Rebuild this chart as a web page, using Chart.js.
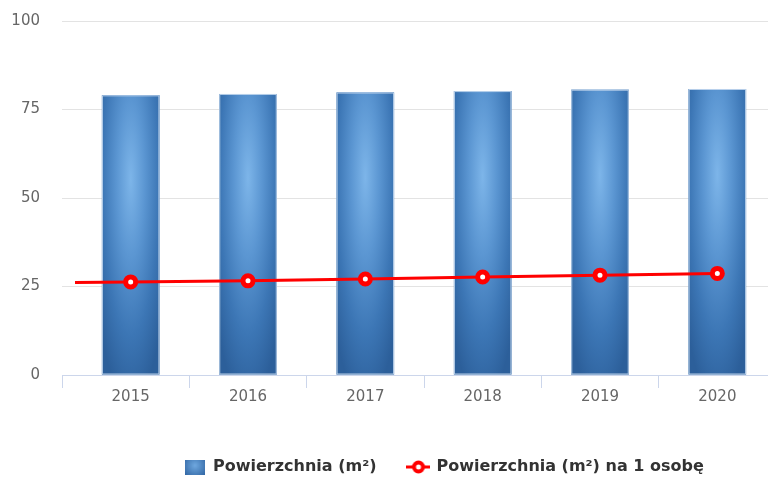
<!DOCTYPE html>
<html>
<head>
<meta charset="utf-8">
<script src="https://cdn.jsdelivr.net/npm/chart.js@4.4.1/dist/chart.umd.min.js"></script>
<style>
html,body{margin:0;padding:0;background:#fff;overflow:hidden;}
#wrap{width:786px;height:478px;position:relative;}
</style>
</head>
<body>
<div id="wrap"><canvas id="c"></canvas></div>
<script>
// ---- data ----
const years = ['2015', '2016', '2017', '2018', '2019', '2020'];
const areaTotal = [79.0, 79.4, 79.8, 80.2, 80.6, 80.8];
const areaPerPerson = [26.3, 26.6, 27.1, 27.7, 28.2, 28.7];
const yTickValues = [0, 25, 50, 75, 100];
const seriesNames = ['Powierzchnia (m²)', 'Powierzchnia (m²) na 1 osobę'];

// ---- styling helpers ----
const STOPS = [[0, '#7db5e9'], [0.35, '#5b96d2'], [0.7, '#3c76b5'], [1, '#2c5f9a']];
const LEGEND_FONT = 16;

function fillEllipseGradient(ctx, left, top, w, h) {
  const cx = left + w / 2, cy = top + h * 0.3;
  const rx = w * 0.7, ry = h * 0.8;
  ctx.save();
  ctx.beginPath();
  ctx.rect(left, top, w, h);
  ctx.clip();
  ctx.translate(cx, cy);
  ctx.scale(1, ry / rx);
  const g = ctx.createRadialGradient(0, 0, 0, 0, 0, rx);
  STOPS.forEach(s => g.addColorStop(s[0], s[1]));
  ctx.fillStyle = g;
  ctx.fillRect(-5000, -5000, 10000, 10000);
  ctx.restore();
}

function makeBarIcon() {
  const cv = document.createElement('canvas');
  cv.width = 20; cv.height = 15;
  const c = cv.getContext('2d');
  const g = c.createRadialGradient(10, 6, 0, 10, 6, 14);
  g.addColorStop(0, '#6fa8df'); g.addColorStop(1, '#2f64a2');
  c.fillStyle = g; c.fillRect(0, 0, 20, 15);
  return cv;
}
function makeLineIcon() {
  const cv = document.createElement('canvas');
  cv.width = 24; cv.height = 16;
  const c = cv.getContext('2d');
  c.strokeStyle = '#ff0000'; c.lineWidth = 3;
  c.beginPath(); c.moveTo(0, 8); c.lineTo(24, 8); c.stroke();
  c.beginPath(); c.arc(12, 8, 4.5, 0, Math.PI * 2);
  c.fillStyle = '#ffffff'; c.fill();
  c.lineWidth = 4; c.stroke();
  return cv;
}
const icons = [makeBarIcon(), makeLineIcon()];

const barPainter = {
  id: 'barPainter',
  afterDatasetDraw(chart, args) {
    if (args.index !== 0) return;
    const ctx = chart.ctx;
    args.meta.data.forEach(bar => {
      const p = bar.getProps(['x', 'y', 'base', 'width'], true);
      const left = p.x - p.width / 2, top = p.y, h = p.base - p.y;
      fillEllipseGradient(ctx, left, top, p.width, h);
      ctx.save();
      ctx.strokeStyle = 'rgba(200,218,240,0.9)';
      ctx.lineWidth = 1;
      ctx.strokeRect(left + 0.5, top + 0.5, p.width - 1, h - 1);
      ctx.restore();
    });
  },
  beforeDatasetDraw(chart, args) {
    if (args.index !== 1) return;
    const pts = args.meta.data;
    if (pts.length < 2) return;
    const a = pts[0].getProps(['x', 'y'], true), b = pts[1].getProps(['x', 'y'], true);
    const slope = (b.y - a.y) / (b.x - a.x);
    const x0 = chart.chartArea.left + 3;
    const y0 = a.y + slope * (x0 - a.x);
    const ctx = chart.ctx;
    ctx.save();
    ctx.strokeStyle = '#ff0000';
    ctx.lineWidth = 3;
    ctx.beginPath(); ctx.moveTo(x0, y0); ctx.lineTo(a.x, a.y); ctx.stroke();
    ctx.restore();
  },
  afterDraw(chart) {
    const a = chart.chartArea;
    const ctx = chart.ctx;
    ctx.save();
    ctx.strokeStyle = '#ccd6eb';
    ctx.lineWidth = 1;
    ctx.beginPath();
    ctx.moveTo(a.left - 9.5, a.bottom);
    ctx.lineTo(a.left - 9.5, a.bottom + 13);
    ctx.stroke();
    ctx.restore();
  }
};

const legendMover = {
  id: 'legendMover',
  beforeLayout(chart) {
    const l = chart.legend;
    if (!l || l._patched) return;
    const orig = l.fit.bind(l);
    l.fit = function () { orig(); this.height = 72; };
    l._patched = true;
  },
  afterLayout(chart) {
    const l = chart.legend;
    if (!l) return;
    const p = l.options.labels.padding;
    const start = (l.left + p + l.right - l.lineWidths[0]) / 2;
    const dx = 185 - start;
    const dy = 467 - (l.top + p + LEGEND_FONT / 2);
    l.left += dx; l.right += dx;
    l.top += dy; l.bottom += dy;
  }
};

new Chart(document.getElementById('c'), {
  type: 'bar',
  data: {
    labels: years,
    datasets: [
      {
        type: 'bar',
        label: seriesNames[0],
        data: areaTotal,
        backgroundColor: '#3f78b6',
        borderWidth: 0,
        barPercentage: 0.49,
        categoryPercentage: 1,
        order: 1
      },
      {
        type: 'line',
        label: seriesNames[1],
        data: areaPerPerson,
        borderColor: '#ff0000',
        borderWidth: 3,
        pointRadius: 5,
        pointBorderWidth: 5,
        pointBackgroundColor: '#ffffff',
        pointBorderColor: '#ff0000',
        tension: 0,
        order: 0
      }
    ]
  },
  options: {
    responsive: true,
    maintainAspectRatio: false,
    animation: false,
    devicePixelRatio: 1,
    layout: { padding: { left: 0, right: 0, top: 21, bottom: 0 } },
    plugins: {
      tooltip: { enabled: false },
      legend: {
        position: 'bottom',
        labels: {
          usePointStyle: true,
          pointStyleWidth: 20,
          padding: 32,
          color: '#333333',
          font: { family: 'DejaVu Sans', size: LEGEND_FONT, weight: 'bold' },
          generateLabels(chart) {
            return chart.data.datasets.map((ds, i) => ({
              text: ds.label,
              fillStyle: 'transparent',
              strokeStyle: 'transparent',
              lineWidth: 0,
              pointStyle: icons[i],
              hidden: false,
              datasetIndex: i,
              fontColor: '#333333'
            }));
          }
        }
      }
    },
    scales: {
      x: {
        offset: true,
        afterFit(scale) { scale.paddingLeft = 0; scale.paddingRight = 0; },
        grid: {
          offset: true,
          drawOnChartArea: false,
          drawTicks: true,
          tickLength: 13,
          color: ctx => (ctx.index === 0 ? 'rgba(0,0,0,0)' : '#ccd6eb')
        },
        border: { display: true, color: '#ccd6eb', width: 1 },
        ticks: {
          color: '#666666',
          padding: 0,
          font: { family: 'DejaVu Sans', size: 15 }
        }
      },
      y: {
        min: 0,
        max: 100,
        afterBuildTicks(scale) { scale.ticks = yTickValues.map(v => ({ value: v })); },
        afterFit(scale) { scale.width = 72; scale.paddingTop = 0; scale.paddingBottom = 0; },
        grid: {
          drawTicks: true,
          tickLength: 10,
          color: ctx => (ctx.tick && ctx.tick.value === 0 ? '#ccd6eb' : '#e3e3e3'),
          lineWidth: 1
        },
        border: { display: false },
        ticks: {
          color: '#666666',
          padding: 22,
          font: { family: 'DejaVu Sans', size: 15 }
        }
      }
    }
  },
  plugins: [barPainter, legendMover]
});
</script>
</body>
</html>
